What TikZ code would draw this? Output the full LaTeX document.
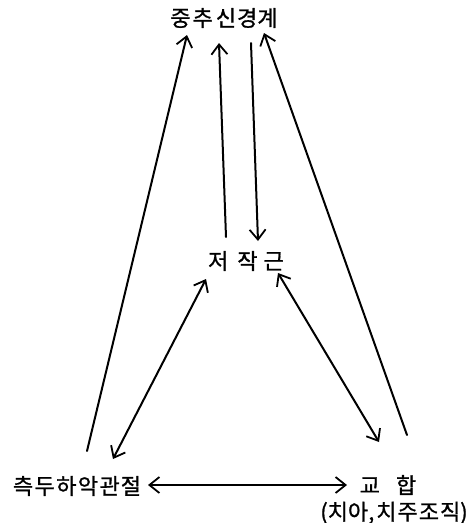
\documentclass[tikz,border=0pt]{standalone}
\usepackage{fontspec}
\newfontfamily\kr[FakeBold=1]{Noto Sans CJK KR}
\usetikzlibrary{arrows.meta}
\tikzset{
  lbl/.style={inner sep=0pt, font=\kr\fontsize{22}{26}\selectfont},
  tipv/.tip={Straight Barb[length=10pt,width=16pt,line width=1.8pt]},
  conn/.style={line width=2pt, line cap=round, -tipv},
  dconn/.style={line width=2pt, line cap=round, tipv-tipv}
}
\begin{document}
\begin{tikzpicture}[x=1pt,y=-1pt]
\useasboundingbox (0,0) rectangle (473,523);
\node[lbl] (cns) at (224,18) {중\hspace{2pt}추\hspace{3pt}신\hspace{1pt}경\hspace{0pt}계};
\node[lbl] (mm) at (246,261) {저\hspace{9pt}작\hspace{6pt}근};
\node[lbl] (tmj) at (77,486) {측\hspace{1.4pt}두\hspace{1.4pt}하\hspace{1.4pt}악\hspace{1.4pt}관\hspace{1pt}절};
\node[lbl] (occ) at (388,485) {교\hspace{16pt}합};
\node[lbl] (occb) at (394,513) {(치아,\hspace{2pt}치\hspace{1pt}주\hspace{1pt}조\hspace{1pt}직)};
% endpoints
\coordinate (a1s) at (87,451);  \coordinate (a1e) at (187,35);
\coordinate (a2s) at (226,237); \coordinate (a2e) at (219,43);
\coordinate (a3s) at (251,43);  \coordinate (a3e) at (258,241);
\coordinate (a4s) at (407,435); \coordinate (a4e) at (264,33);
\coordinate (a5s) at (113,459); \coordinate (a5e) at (206,279);
\coordinate (a6s) at (379,442); \coordinate (a6e) at (278,273);
\coordinate (a7s) at (148,485); \coordinate (a7e) at (347,485);
\draw[conn] (a1s) -- (a1e);
\draw[conn] (a2s) -- (a2e);
\draw[conn] (a3s) -- (a3e);
\draw[conn] (a4s) -- (a4e);
\draw[dconn] (a5s) -- (a5e);
\draw[dconn] (a6s) -- (a6e);
\draw[dconn] (a7s) -- (a7e);
\end{tikzpicture}
\end{document}
